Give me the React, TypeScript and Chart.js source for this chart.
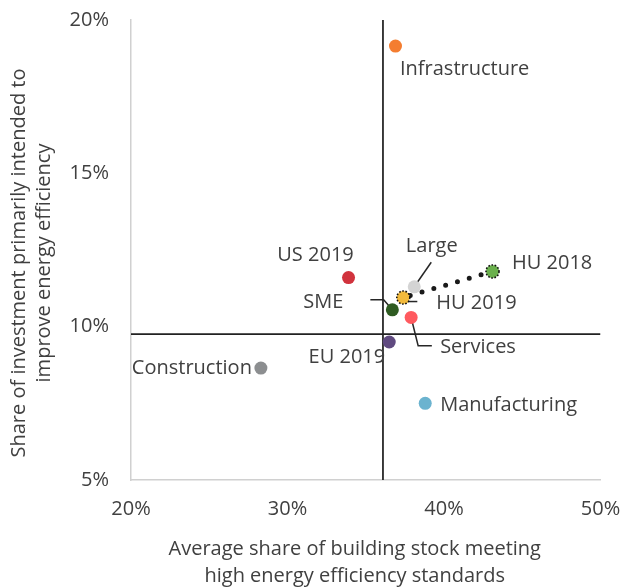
import React, { useEffect, useRef } from "react";
import { Chart, registerables } from "chart.js";
Chart.register(...registerables);

// ---- data ----
const categories = [
  "Infrastructure",
  "US 2019",
  "Large",
  "HU 2018",
  "HU 2019",
  "SME",
  "Services",
  "EU 2019",
  "Construction",
  "Manufacturing",
];
const xValues = [36.9, 33.9, 38.1, 43.1, 37.4, 36.7, 37.9, 36.5, 28.3, 38.8];
const yValues = [19.15, 11.6, 11.3, 11.8, 10.95, 10.55, 10.3, 9.5, 8.65, 7.5];
const xTicks = [20, 30, 40, 50];
const yTicks = [5, 10, 15, 20];
const refX = 36.1;
const refY = 9.76;
const trendFrom = "HU 2019";
const trendTo = "HU 2018";
const xTitle = ["Average share of building stock meeting", "high energy efficiency standards"];
const yTitle = ["Share of investment primarily intended to", "improve energy efficiency"];

// ---- styles / layout ----
const pointColors = [
  "#F47D30",
  "#D1333D",
  "#D4D4D4",
  "#6AB04C",
  "#F2BA3C",
  "#2F5B22",
  "#FF5A5F",
  "#604A80",
  "#8C8E90",
  "#6BB3CF",
];
const dottedBorder = ["HU 2018", "HU 2019"];
type Layout = { dx: number; dy: number; align: CanvasTextAlign; leader?: number[][] };
const labelLayout: Record<string, Layout> = {
  Infrastructure: { dx: 4.5, dy: 23, align: "left" },
  "US 2019": { dx: -33, dy: -22, align: "center" },
  Large: { dx: 17.5, dy: -40.5, align: "center", leader: [[17, -24.5], [0, 0]] },
  "HU 2018": { dx: 19.5, dy: -7.7, align: "left" },
  "HU 2019": { dx: 33, dy: 5.3, align: "left", leader: [[0, 4], [14, 4]] },
  SME: { dx: -49, dy: -7.3, align: "right", leader: [[-22, -10], [-8.7, -10], [0, 0]] },
  Services: { dx: 29, dy: 30.3, align: "left", leader: [[0, 0], [7, 28.3], [20.7, 28.3]] },
  "EU 2019": { dx: -4, dy: 15.3, align: "right" },
  Construction: { dx: -9, dy: 0.7, align: "right" },
  Manufacturing: { dx: 15, dy: 2, align: "left" },
};

const FONT = "'Open Sans', sans-serif";
const TEXT = "#404040";
const W = 612;
const H = 579;

export default function App() {
  const ref = useRef<HTMLCanvasElement>(null);

  useEffect(() => {
    if (!ref.current) return;
    const iFrom = categories.indexOf(trendFrom);
    const iTo = categories.indexOf(trendTo);

    const labelPlugin = {
      id: "pointLabels",
      beforeDatasetsDraw(chart: any) {
        const { ctx, scales } = chart;
        const x = scales.x, y = scales.y;
        ctx.save();
        ctx.strokeStyle = "#262626";
        ctx.lineWidth = 1.5;
        categories.forEach((c, i) => {
          const l = labelLayout[c];
          if (!l || !l.leader) return;
          const px = x.getPixelForValue(xValues[i]);
          const py = y.getPixelForValue(yValues[i]);
          ctx.beginPath();
          l.leader.forEach(([dx, dy], k) => {
            if (k === 0) ctx.moveTo(px + dx, py + dy);
            else ctx.lineTo(px + dx, py + dy);
          });
          ctx.stroke();
        });
        ctx.restore();
      },
      afterDatasetsDraw(chart: any) {
        const { ctx, scales } = chart;
        const x = scales.x, y = scales.y;
        ctx.save();
        // dotted borders
        ctx.strokeStyle = "#111";
        ctx.lineWidth = 1.6;
        ctx.setLineDash([1.6, 1.6]);
        dottedBorder.forEach((c) => {
          const i = categories.indexOf(c);
          const px = x.getPixelForValue(xValues[i]);
          const py = y.getPixelForValue(yValues[i]);
          ctx.beginPath();
          ctx.arc(px, py, 6.5, 0, Math.PI * 2);
          ctx.stroke();
        });
        ctx.setLineDash([]);
        // labels
        ctx.font = `20px ${FONT}`;
        ctx.fillStyle = TEXT;
        ctx.textBaseline = "middle";
        categories.forEach((c, i) => {
          const l = labelLayout[c];
          const px = x.getPixelForValue(xValues[i]);
          const py = y.getPixelForValue(yValues[i]);
          ctx.textAlign = l.align;
          ctx.fillText(c, px + l.dx, py + l.dy);
        });
        ctx.restore();
      },
      afterDraw(chart: any) {
        const { ctx, chartArea } = chart;
        ctx.save();
        ctx.font = `20px ${FONT}`;
        ctx.fillStyle = TEXT;
        ctx.textAlign = "center";
        ctx.textBaseline = "middle";
        const cx = (chartArea.left + chartArea.right) / 2 - 11;
        ctx.fillText(xTitle[0], cx, chartArea.bottom + 69);
        ctx.fillText(xTitle[1], cx, chartArea.bottom + 96);
        const cy = (chartArea.top + chartArea.bottom) / 2 + 13;
        ctx.translate(0, cy);
        ctx.rotate(-Math.PI / 2);
        ctx.fillText(yTitle[0], 0, 11);
        ctx.fillText(yTitle[1], 0, 36);
        ctx.restore();
      },
    };

    const chart = new Chart(ref.current, {
      type: "scatter",
      data: {
        datasets: [
          {
            label: "points",
            data: categories.map((_, i) => ({ x: xValues[i], y: yValues[i] })),
            backgroundColor: pointColors,
            borderWidth: 0,
            pointRadius: 6.5,
            pointHoverRadius: 6.5,
            order: 0,
          },
          {
            label: "trend",
            data: [
              { x: xValues[iFrom], y: yValues[iFrom] },
              { x: xValues[iTo], y: yValues[iTo] },
            ],
            showLine: true,
            borderColor: "#1a1a1a",
            borderWidth: 5,
            borderDash: [0, 12.3],
            borderDashOffset: 5.1,
            borderCapStyle: "round",
            pointRadius: 0,
            order: 1,
          } as any,
          {
            label: "refV",
            data: [
              { x: refX, y: yTicks[0] },
              { x: refX, y: yTicks[yTicks.length - 1] },
            ],
            showLine: true,
            borderColor: "#222",
            borderWidth: 1.75,
            pointRadius: 0,
            order: 2,
          },
          {
            label: "refH",
            data: [
              { x: xTicks[0], y: refY },
              { x: xTicks[xTicks.length - 1], y: refY },
            ],
            showLine: true,
            borderColor: "#222",
            borderWidth: 1.75,
            pointRadius: 0,
            order: 2,
          },
        ],
      },
      options: {
        responsive: false,
        animation: false,
        layout: { padding: { top: 12, right: 19.5, left: 0, bottom: 0 } },
        plugins: { legend: { display: false }, tooltip: { enabled: false } },
        scales: {
          x: {
            type: "linear",
            min: xTicks[0],
            max: xTicks[xTicks.length - 1],
            afterBuildTicks: (s: any) => {
              s.ticks = xTicks.map((v) => ({ value: v }));
            },
            afterFit: (s: any) => {
              s.height = H - 472;
              s.paddingLeft = 0;
              s.paddingRight = 0;
              s.paddingTop = 0;
              s.paddingBottom = 0;
            },
            grid: { display: false, drawTicks: false },
            border: { display: true, color: "#D0D0D0", width: 1.5 },
            ticks: {
              padding: 17,
              color: TEXT,
              font: { family: FONT, size: 20 },
              callback: (v: any) => `${v}%`,
            },
          },
          y: {
            type: "linear",
            min: yTicks[0],
            max: yTicks[yTicks.length - 1],
            afterBuildTicks: (s: any) => {
              s.ticks = yTicks.map((v) => ({ value: v }));
            },
            afterFit: (s: any) => {
              s.width = 123;
              s.paddingLeft = 0;
              s.paddingRight = 0;
              s.paddingTop = 0;
              s.paddingBottom = 0;
            },
            grid: { display: false, drawTicks: false },
            border: { display: true, color: "#D0D0D0", width: 1.5 },
            ticks: {
              padding: 22,
              color: TEXT,
              font: { family: FONT, size: 20 },
              callback: (v: any) => `${v}%`,
            },
          },
        },
      },
      plugins: [labelPlugin],
    });
    return () => chart.destroy();
  }, []);

  return (
    <div style={{ position: "fixed", left: 8, top: 8, width: W, height: H }}>
      <canvas ref={ref} width={W} height={H} style={{ display: "block" }} />
    </div>
  );
}
